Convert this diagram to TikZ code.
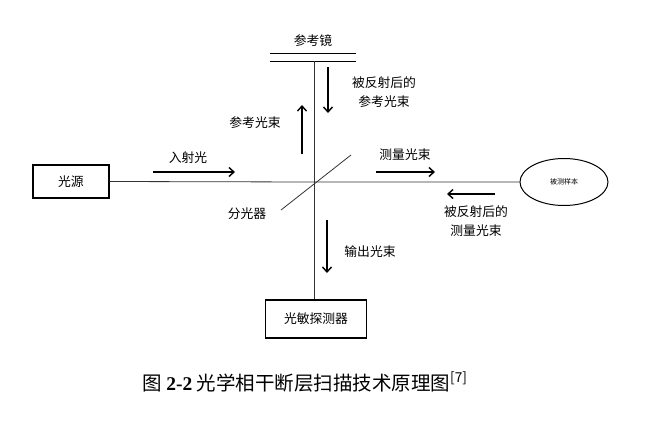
\documentclass[tikz,border=0pt]{standalone}
\usepackage{fontspec}
\setmainfont{Noto Sans CJK SC}
\newfontfamily\tnr{Liberation Serif}
\usepackage{tikz}
\usetikzlibrary{arrows,arrows.meta,positioning,calc,shapes}

\tikzset{
	box/.style={draw, line width=1.3pt, inner sep=0pt},
	beam/.style={line width=0.8pt, draw=black!80},
	dirarrow/.style={line width=1.4pt, -{Straight Barb[length=5pt,width=9pt]}},
	txt/.style={font=\fontsize{12.8}{19}\selectfont, align=center, inner sep=0pt}
}

\begin{document}
\begin{tikzpicture}[x=1pt,y=-1pt]
			\useasboundingbox (0,0) rectangle (649,421);
			\node at (71,181.5) [box, minimum width=76pt, minimum height=33pt, font=\fontsize{12.8}{14}\selectfont] (src) {光源};
			\node at (316,319) [box, minimum width=101pt, minimum height=38pt, font=\fontsize{12.8}{14}\selectfont] (det) {光敏探测器};
			\node at (564,182) [ellipse, draw, line width=1pt, minimum width=88pt, minimum height=47pt, inner sep=0pt, font=\fontsize{7}{8}\selectfont] (smp) {被测样本};
			\node at (313,57.5) [minimum width=86pt, minimum height=7pt, inner sep=0pt, label={[txt, label distance=7pt]above:参考镜}] (mir) {};
			\draw[line width=1.3pt] (mir.north west) -- (mir.north east) (mir.south west) -- (mir.south east);
			\coordinate (bs) at (314,182);
			\coordinate (bsa) at (281,210);
			\coordinate (bsb) at (351,155);
			% beams and splitter
			\draw[beam] (src.east) -- (bs) -- (smp.west);
			\draw[beam] (mir.south -| bs) -- (det.north -| bs);
			\draw[beam] (bsa) -- (bsb);
			% direction arrows
			\coordinate (ina) at (153,172); \coordinate (inb) at (235,172);
			\coordinate (msa) at (376,172); \coordinate (msb) at (435,172);
			\coordinate (bka) at (495,194); \coordinate (bkb) at (447,194);
			\coordinate (upa) at (302,154); \coordinate (upb) at (302,105);
			\coordinate (dna) at (328,67);  \coordinate (dnb) at (328,113);
			\coordinate (ota) at (327,220); \coordinate (otb) at (327,273);
			\draw[dirarrow] (ina) -- (inb);
			\draw[dirarrow] (msa) -- (msb);
			\draw[dirarrow] (bka) -- (bkb);
			\draw[dirarrow] (upa) -- (upb);
			\draw[dirarrow] (dna) -- (dnb);
			\draw[dirarrow] (ota) -- (otb);
			\node at (188,158) [txt] (inl) {入射光};
			\node at (405,155) [txt] (msl) {测量光束};
			\node at (255,123) [txt] (upl) {参考光束};
			\node at (384,92) [txt] (dnl) {被反射后的\\参考光束};
			\node at (476,221) [txt] (bkl) {被反射后的\\测量光束};
			\node at (247,214) [txt] (bsl) {分光器};
			\node at (370,252) [txt] (otl) {输出光束};
			\node at (305,382) [inner sep=0pt, font=\fontsize{19.5}{22}\selectfont] (cap) {图 {\tnr\bfseries 2-2} 光学相干断层扫描技术原理图\textsuperscript{[7]}};
		\end{tikzpicture}
\end{document}
